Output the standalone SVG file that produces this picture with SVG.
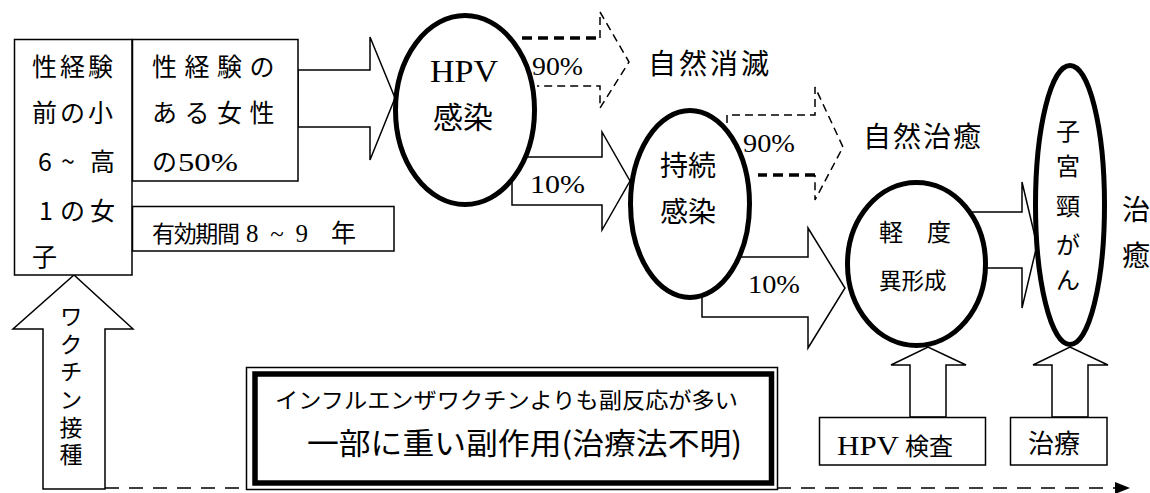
<svg xmlns="http://www.w3.org/2000/svg" width="1150" height="493" viewBox="0 0 1150 493">
<style>
.jp{font-family:'Noto Sans CJK JP','Noto Sans',sans-serif;fill:#000}
.sr{font-family:'Liberation Serif','Noto Sans CJK JP',serif;fill:#000}
.box{fill:#fff;stroke:#000;stroke-width:1.5}
.blk{fill:#fff;stroke:#000;stroke-width:1.5;stroke-linejoin:miter}
.ell{fill:#fff;stroke:#000;stroke-width:5}
.dthin{fill:none;stroke:#000;stroke-width:1.5;stroke-dasharray:8 5}
.dthick{fill:none;stroke:#000;stroke-width:3.5;stroke-dasharray:10 6}
.vert text{text-anchor:middle}
</style>
<defs>
<marker id="ah" viewBox="0 0 15 12" refX="15" refY="6" markerWidth="15" markerHeight="12" markerUnits="userSpaceOnUse" orient="auto">
<path d="M0,0 L15,6 L0,12 Z" fill="#000"/>
</marker>
</defs>
<rect width="1150" height="493" fill="#fff"/>

<g id="connectors">
<line x1="105" y1="488" x2="1130" y2="488" stroke="#000" stroke-width="1.5" stroke-dasharray="14 10" marker-end="url(#ah)"/>
<polygon class="blk" points="43,489 43,329 13,329 74,275 133,329 105,329 105,489"/>
<polygon class="blk" points="298,70 370,70 370,37 395,98 370,160 370,127 298,127"/>
<polygon class="blk" points="512,157 602,157 602,132 630,181 602,230 602,205 512,205"/>
<polygon class="blk" points="702,257 808,257 808,228 845,288 808,348 808,317 702,317"/>
<polygon class="blk" points="960,212 1022,212 1022,182 1037,245 1022,308 1022,268 960,268"/>
<polygon class="blk" points="910,417 910,365 891,365 928,347 966,365 946,365 946,417"/>
<polygon class="blk" points="1052,417 1052,365 1033,365 1070,347 1108,365 1088,365 1088,417"/>
<path class="dthick" d="M522,38 H600"/>
<path class="dthin" d="M600,38 V12 L629,62 L600,108 V86 H537"/>
<path class="dthin" d="M727,123 V115 H815 V87 L843,147 L815,200 V175"/>
<path class="dthick" d="M815,175 H758"/>
</g>

<g id="node-target">
<rect class="box" x="14.5" y="39.5" width="117.5" height="235.5"/>
<text class="jp" font-size="25" x="32" y="76" letter-spacing="3">性経験</text>
<text class="jp" font-size="25" x="32" y="122" letter-spacing="3">前の小</text>
<text class="jp" font-size="25" x="38" y="171">6</text>
<text class="jp" font-size="25" x="61" y="171">~</text>
<text class="jp" font-size="25" x="90" y="171">高</text>
<text class="jp" font-size="25" x="39" y="219.5">1</text>
<text class="jp" font-size="25" x="60" y="219.5" letter-spacing="5">の女</text>
<text class="jp" font-size="25" x="32" y="265.5">子</text>
</g>

<g id="node-women">
<rect class="box" x="132.5" y="39.5" width="165.5" height="141.5"/>
<text class="jp" font-size="25" x="152" y="76" letter-spacing="7.5">性経験の</text>
<text class="jp" font-size="25" x="152" y="122" letter-spacing="7.5">ある女性</text>
<text class="jp" font-size="25" x="152" y="171">の</text>
<text class="sr" font-size="26" x="178" y="171" textLength="60" lengthAdjust="spacingAndGlyphs">50%</text>
</g>

<g id="node-period">
<rect class="box" x="132.5" y="206.5" width="261.5" height="44.5"/>
<text class="jp" font-size="23" x="152" y="242" textLength="88">有効期間</text>
<text class="sr" font-size="25" x="246" y="242" textLength="62">8~9</text>
<text class="jp" font-size="25" x="331" y="242">年</text>
</g>

<g id="node-hpv">
<ellipse class="ell" cx="465" cy="110" rx="69.5" ry="94.5"/>
<text class="sr" font-size="31" x="430" y="82" textLength="68" lengthAdjust="spacingAndGlyphs">HPV</text>
<text class="jp" font-size="30" x="433" y="128">感染</text>
</g>

<g id="node-persistent">
<ellipse class="ell" cx="690" cy="204" rx="59.5" ry="93.5"/>
<text class="jp" font-size="28" x="660" y="175.5">持続</text>
<text class="jp" font-size="28" x="660" y="222">感染</text>
</g>

<g id="node-mild">
<ellipse class="ell" cx="916.5" cy="264" rx="69" ry="81.5"/>
<text class="jp" font-size="24" x="879" y="240.5">軽　度</text>
<text class="jp" font-size="22.5" x="879" y="288.5">異形成</text>
</g>

<g id="node-cancer" class="vert">
<ellipse class="ell" cx="1070" cy="205" rx="34.5" ry="139.5"/>
<text class="jp" font-size="24" x="1068" y="140">子</text>
<text class="jp" font-size="24" x="1068" y="175">宮</text>
<text class="jp" font-size="24" x="1068" y="214.5">頸</text>
<text class="jp" font-size="24" x="1068" y="253.5">が</text>
<text class="jp" font-size="24" x="1068" y="289">ん</text>
</g>

<g id="node-cure">
<text class="jp" font-size="28" x="1122" y="219.5">治</text>
<text class="jp" font-size="28" x="1122" y="265.5">癒</text>
</g>

<g id="node-vanish">
<text class="jp" font-size="28" x="648" y="74" letter-spacing="3">自然消滅</text>
</g>

<g id="node-heal">
<text class="jp" font-size="28" x="863" y="147" letter-spacing="2">自然治癒</text>
</g>

<g id="node-vaccine">
<text class="jp" font-size="23" x="71" y="305" writing-mode="vertical-rl" letter-spacing="4.6">ワクチン接種</text>
</g>

<g id="node-side-effects">
<rect x="246.5" y="367.5" width="531" height="122" fill="#fff" stroke="#000" stroke-width="1.5"/>
<rect x="255" y="374" width="516.5" height="109" fill="none" stroke="#000" stroke-width="5.5"/>
<text class="jp" font-size="22" x="275" y="408" textLength="463" lengthAdjust="spacingAndGlyphs">インフルエンザワクチンよりも副反応が多い</text>
<text class="jp" font-size="30" x="307" y="454" textLength="435" lengthAdjust="spacingAndGlyphs">一部に重い副作用(治療法不明)</text>
</g>

<g id="node-hpv-test">
<rect class="box" x="819.5" y="417.5" width="166" height="47.5"/>
<text class="sr" font-size="27" x="837" y="455" textLength="62" lengthAdjust="spacingAndGlyphs">HPV</text>
<text class="jp" font-size="24" x="905" y="455">検査</text>
</g>

<g id="node-treatment">
<rect class="box" x="1010.5" y="417.5" width="96.5" height="47.5"/>
<text class="jp" font-size="26" x="1028" y="453">治療</text>
</g>

<g id="connector-labels">
<text class="sr" font-size="25" x="532" y="75" textLength="51" lengthAdjust="spacingAndGlyphs">90%</text>
<text class="sr" font-size="25" x="530" y="193" textLength="55" lengthAdjust="spacingAndGlyphs">10%</text>
<text class="sr" font-size="25" x="743" y="152" textLength="52" lengthAdjust="spacingAndGlyphs">90%</text>
<text class="sr" font-size="25" x="748" y="293" textLength="52" lengthAdjust="spacingAndGlyphs">10%</text>
</g>
</svg>
